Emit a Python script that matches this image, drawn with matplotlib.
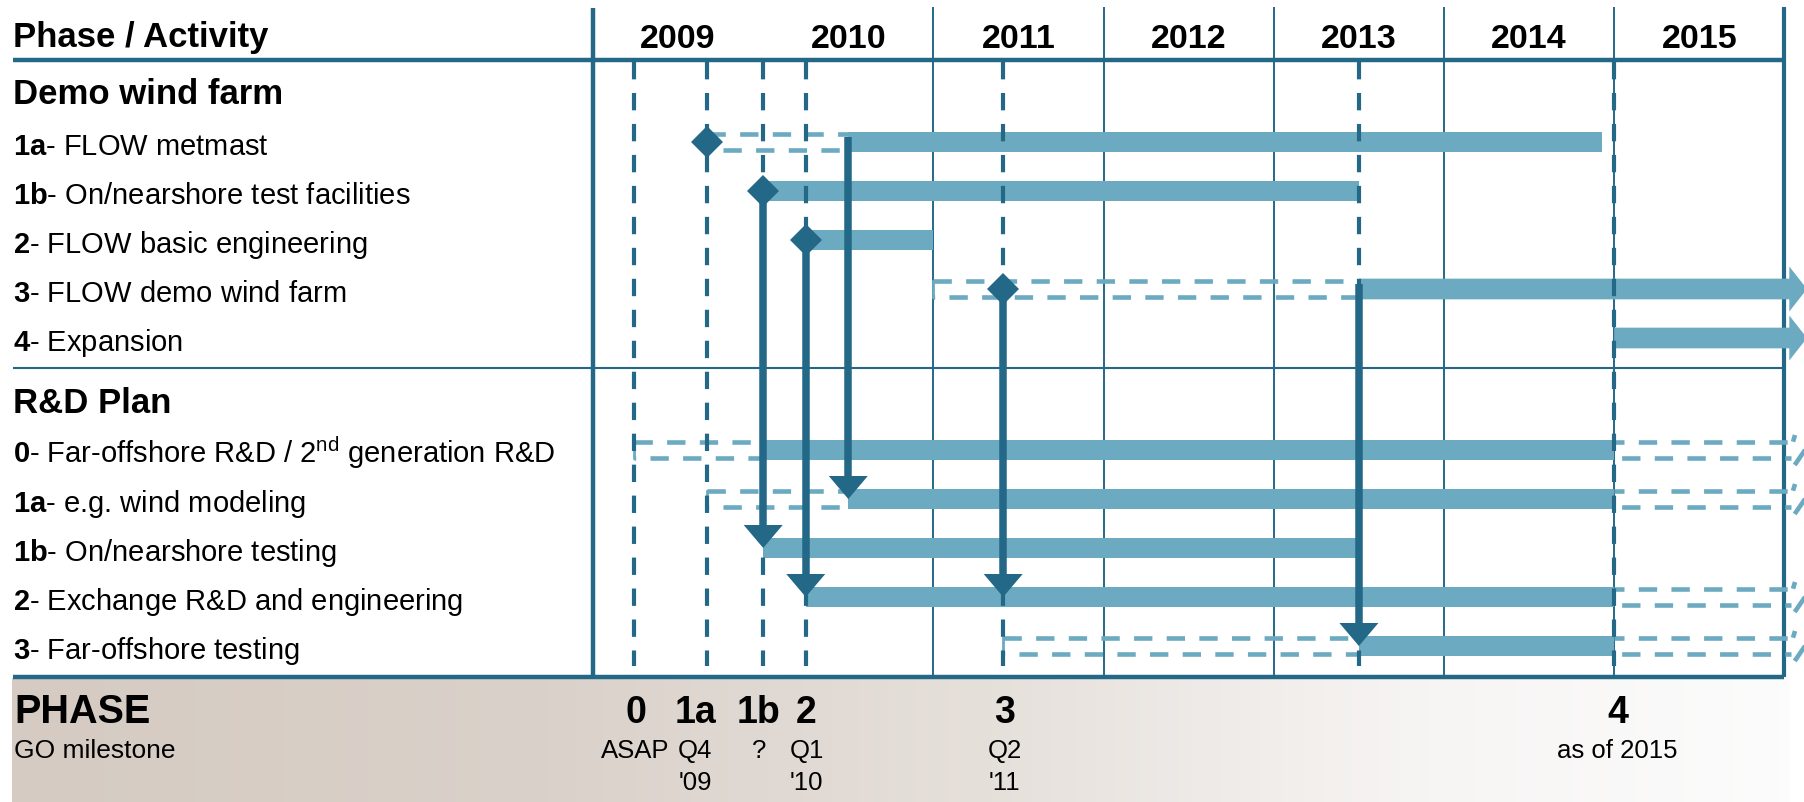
import numpy as np
import matplotlib
matplotlib.use('Agg')
import matplotlib.pyplot as plt
from matplotlib.patches import Polygon
from matplotlib.colors import LinearSegmentedColormap

plt.rcParams['font.family'] = ['Liberation Sans', 'DejaVu Sans']
plt.rcParams['mathtext.fontset'] = 'custom'
plt.rcParams['mathtext.rm'] = 'Liberation Sans'
plt.rcParams['mathtext.bf'] = 'Liberation Sans:bold'
plt.rcParams['mathtext.it'] = 'Liberation Sans:italic'
plt.rcParams['lines.scale_dashes'] = False

# ---------------- data ----------------
years = [2009, 2010, 2011, 2012, 2013, 2014, 2015]
year_lines = [2011, 2012, 2013, 2014, 2015]
chart_start, chart_end = 2009, 2016

group_titles = ['Demo wind farm', 'R&D Plan']

demo_codes = ['1a', '1b', '2', '3', '4']
demo_names = ['FLOW metmast', 'On/nearshore test facilities',
              'FLOW basic engineering', 'FLOW demo wind farm', 'Expansion']
demo_plan_start = [2009.67, None, None, 2011.0, None]
demo_start = [2010.5, 2010.0, 2010.25, 2013.5, 2015.0]
demo_end = [2014.93, 2013.5, 2011.0, None, None]        # None = continues beyond 2015
demo_go = [2009.67, 2010.0, 2010.25, 2011.41, None]      # GO diamonds

rd_codes = ['0', '1a', '1b', '2', '3']
rd_names = [r'Far-offshore R&D / 2$^{\mathrm{nd}}$ generation R&D',
            'e.g. wind modeling', 'On/nearshore testing',
            'Exchange R&D and engineering', 'Far-offshore testing']
rd_plan_start = [2009.24, 2009.67, None, None, 2011.41]
rd_start = [2010.0, 2010.5, 2010.0, 2010.25, 2013.5]
rd_end = [2015.0, 2015.0, 2013.5, 2015.0, 2015.0]
rd_extends = [True, True, False, True, True]

# dependencies: demo row -> R&D row at x
dep_x = [2010.5, 2010.0, 2010.25, 2011.41, 2013.5]
dep_from = [0, 1, 2, 3, 3]
dep_to = [1, 2, 3, 3, 4]

phase_names = ['0', '1a', '1b', '2', '3', '4']
phase_x = [2009.24, 2009.67, 2010.0, 2010.25, 2011.41, 2015.0]
phase_label_x = [2009.25, 2009.6, 2009.975, 2010.255, 2011.42, 2015.02]
phase_when_1 = ['ASAP', 'Q4', '?', 'Q1', 'Q2', 'as of 2015']
phase_when_2 = ['', "'09", '', "'10", "'11", '']
extra_milestones = [2013.5]

# ---------------- layout helpers ----------------
PX_YEAR = 170.2
X0_PX = 593.0
ROW_PX = 49.0
Y0_PX = 94.0


def xp(px):
    return chart_start + (px - X0_PX) / PX_YEAR


def yp(py):
    return (py - Y0_PX) / ROW_PX


DARK = '#246888'
LIGHT = '#6baac0'

demo_y = [yp(143 + ROW_PX * i) for i in range(5)]
rd_y = [yp(451 + ROW_PX * i) for i in range(5)]
BAR_H = 20.7 / ROW_PX
BOX_OFF = 8.3 / ROW_PX
BOX_LW = 3.3
DASH = (13.2, 10.3)

fig = plt.figure(figsize=(18.04, 8.03), dpi=100)
ax = fig.add_axes([0, 0, 1, 1])
ax.axis('off')

# bottom band gradient
cmap = LinearSegmentedColormap.from_list(
    'band', [(0.0, '#d5cbc2'), (0.3, '#dad1ca'), (0.55, '#e6e0db'),
             (0.8, '#f7f5f4'), (1.0, '#fcfcfc')])
ax.imshow(np.linspace(0, 1, 512)[None, :], cmap=cmap, aspect='auto',
          extent=(xp(12), xp(1790), yp(803), yp(679)), zorder=0,
          interpolation='bilinear')

# grid / frame lines
top_y = yp(8)
bottom_y = yp(678)
ax.vlines(year_lines, top_y, bottom_y, color=DARK, lw=1.4, zorder=1)
ax.vlines([chart_start], yp(9), bottom_y, color=DARK, lw=3.2, zorder=1)
ax.vlines([chart_end], top_y, bottom_y, color=DARK, lw=3.0, zorder=1)
ax.hlines([yp(61)], xp(12.6), chart_end, color=DARK, lw=3.2, zorder=1)
ax.hlines([yp(368.5)], xp(12.6), chart_end, color=DARK, lw=1.5, zorder=1)
ax.hlines([bottom_y], xp(12.6), chart_end, color=DARK, lw=3.2, zorder=6)

HEAD_BASE = xp(1789.3)
HEAD_TIP = xp(1807)
HEAD_H = 22.5 / ROW_PX


def plan_box(x0, x1, y):
    ax.plot([x0, x1], [y - BOX_OFF] * 2, color=LIGHT, lw=BOX_LW, ls=(0, DASH),
            zorder=2, dash_capstyle='butt')
    ax.plot([x0, x1], [y + BOX_OFF] * 2, color=LIGHT, lw=BOX_LW, ls=(12, DASH),
            zorder=2, dash_capstyle='butt')
    ax.plot([x0, x0], [y - BOX_OFF, y + BOX_OFF], color=LIGHT, lw=2.0, zorder=2)


def block_arrow(x0, y):
    pts = [(x0, y - BAR_H / 2), (HEAD_BASE, y - BAR_H / 2), (HEAD_BASE, y - HEAD_H),
           (HEAD_TIP, y), (HEAD_BASE, y + HEAD_H), (HEAD_BASE, y + BAR_H / 2),
           (x0, y + BAR_H / 2)]
    ax.add_patch(Polygon(pts, closed=True, facecolor=LIGHT, edgecolor='none', zorder=2))


def dashed_extension(x0, y):
    hb = xp(1793)
    tip = xp(1805)
    flare = 15 / ROW_PX
    ax.plot([x0, hb], [y - BOX_OFF] * 2, color=LIGHT, lw=BOX_LW, ls=(6, DASH),
            zorder=2, dash_capstyle='butt')
    ax.plot([x0, hb - 0.01], [y + BOX_OFF] * 2, color=LIGHT, lw=BOX_LW, ls=(18, DASH),
            zorder=2, dash_capstyle='butt')
    # visible fragments of the outlined arrow head (cut by the page edge)
    ax.plot([hb, hb + 0.012], [y - BOX_OFF, y - flare], color=LIGHT, lw=BOX_LW,
            zorder=2, solid_capstyle='butt')
    ax.plot([hb + 0.01, tip], [y + flare, y], color=LIGHT, lw=BOX_LW,
            zorder=2, solid_capstyle='butt')


# demo bars
for i in range(5):
    y = demo_y[i]
    if demo_plan_start[i] is not None:
        plan_box(demo_plan_start[i], demo_start[i], y)
    if demo_end[i] is not None:
        ax.barh(y, demo_end[i] - demo_start[i], left=demo_start[i], height=BAR_H,
                color=LIGHT, zorder=2)
    else:
        block_arrow(demo_start[i], y)

# R&D bars
for i in range(5):
    y = rd_y[i]
    if rd_plan_start[i] is not None:
        plan_box(rd_plan_start[i], rd_start[i], y)
    ax.barh(y, rd_end[i] - rd_start[i], left=rd_start[i], height=BAR_H,
            color=LIGHT, zorder=2)
    if rd_extends[i]:
        dashed_extension(rd_end[i], y)

# milestone dashed lines
ax.vlines(phase_x + extra_milestones, yp(63), yp(667), color=DARK, lw=3.0,
          linestyles=[(0, (12.5, 9.8))], zorder=3)

# dependency arrows
HW = 39 / PX_YEAR
HL = 23 / ROW_PX
for x, fi, ti in zip(dep_x, dep_from, dep_to):
    y0 = demo_y[fi] - 0.1
    tip = rd_y[ti]
    ax.plot([x, x], [y0, tip - HL + 0.05], color=DARK, lw=5.4,
            solid_capstyle='butt', zorder=4)
    ax.add_patch(Polygon([(x - HW / 2, tip - HL), (x + HW / 2, tip - HL), (x, tip)],
                         closed=True, facecolor=DARK, edgecolor='none', zorder=4))

# GO diamonds
gx = [g for g in demo_go if g is not None]
gy = [demo_y[i] for i, g in enumerate(demo_go) if g is not None]
ax.plot(gx, gy, 'D', ms=15.8, color=DARK, mew=0, zorder=5)

# ---------------- texts ----------------
LX = xp(12.6)
HEAD_FS = 25
ax.text(LX, yp(47), 'Phase / Activity', fontsize=HEAD_FS, fontweight='bold',
        va='baseline', ha='left')
for yr in years:
    ax.text(yr + 0.5, yp(47.5), str(yr), fontsize=24.5, fontweight='bold',
            va='baseline', ha='center')

ax.text(LX, yp(104.5), group_titles[0], fontsize=HEAD_FS, fontweight='bold',
        va='baseline', ha='left')
ax.text(LX, yp(413.5), group_titles[1], fontsize=HEAD_FS, fontweight='bold',
        va='baseline', ha='left')

for code, name, y in zip(demo_codes, demo_names, demo_y):
    ax.text(LX, y + 12 / ROW_PX, r'$\mathbf{%s}$- %s' % (code, name), fontsize=21,
            va='baseline', ha='left')
for code, name, y in zip(rd_codes, rd_names, rd_y):
    ax.text(LX, y + 12 / ROW_PX, r'$\mathbf{%s}$- %s' % (code, name), fontsize=21,
            va='baseline', ha='left')

ax.text(xp(14), yp(723.5), 'PHASE', fontsize=28.5, fontweight='bold',
        va='baseline', ha='left')
ax.text(xp(14), yp(758.5), 'GO milestone', fontsize=19, va='baseline', ha='left')

for name, lx, w1, w2 in zip(phase_names, phase_label_x, phase_when_1, phase_when_2):
    ax.text(lx, yp(723.5), name, fontsize=27, fontweight='bold',
            va='baseline', ha='center')
    ax.text(lx, yp(758.5), w1, fontsize=18.5, va='baseline', ha='center')
    if w2:
        ax.text(lx, yp(790), w2, fontsize=18.5, va='baseline', ha='center')

ax.set_xlim(xp(0), xp(1804))
ax.set_ylim(yp(803), yp(0))

fig.savefig('out.png', dpi=100, facecolor='white')
